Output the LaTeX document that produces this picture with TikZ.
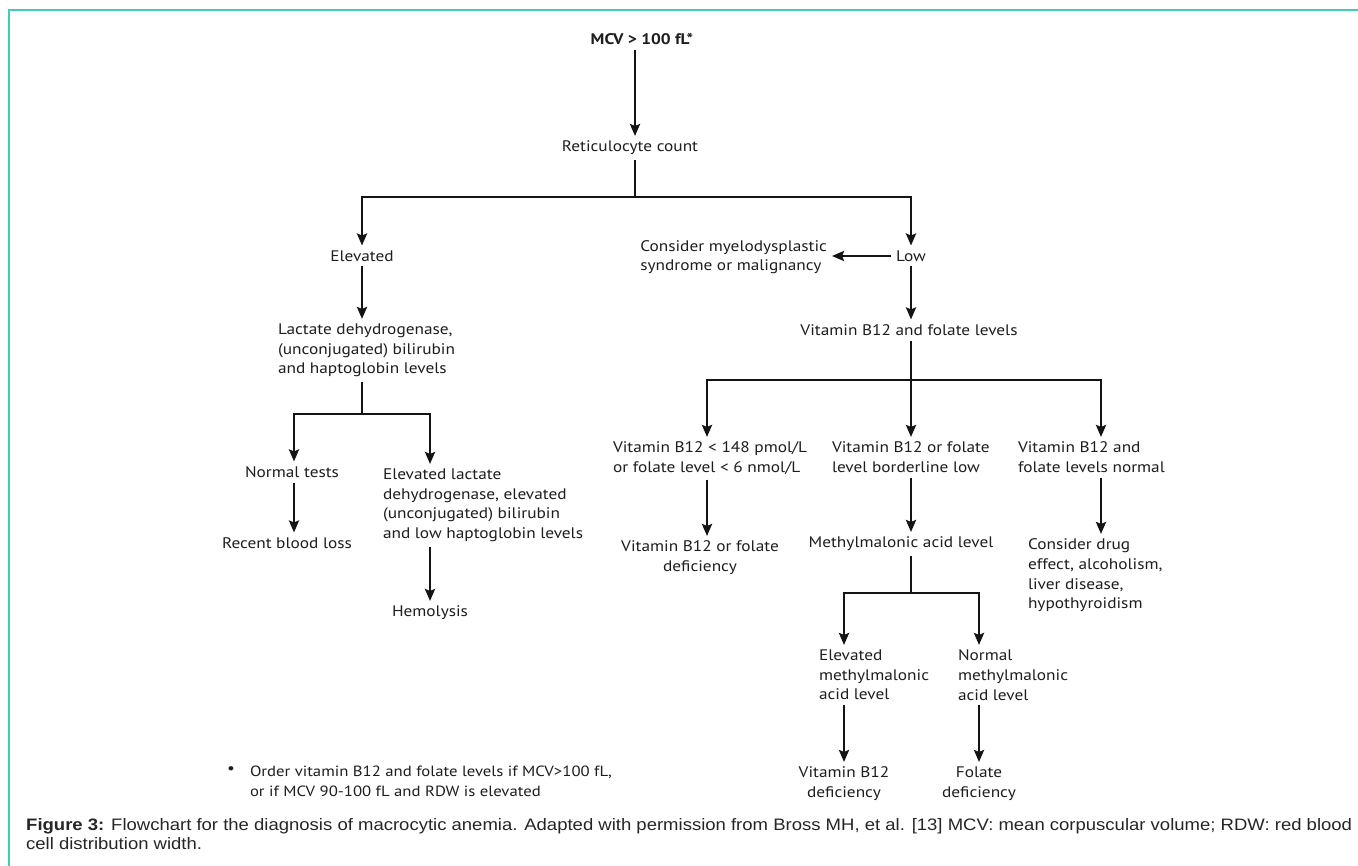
\documentclass[tikz,border=0pt]{standalone}
\usepackage{fontspec}
\setmainfont{PT Sans}[FakeStretch=1.13]
\newfontfamily\capfont{Liberation Sans}[FakeStretch=1.115]
\usetikzlibrary{arrows.meta}
\definecolor{frameteal}{RGB}{64,204,184}
\definecolor{txt}{RGB}{30,30,30}
\tikzset{
  lbl/.style={font=\fontsize{15.3}{19.6}\selectfont, text=txt, inner sep=0pt, outer sep=5pt},
  lblL/.style={lbl, align=left},
  lblC/.style={lbl, align=center},
  ln/.style={line width=2.6pt, draw=black!92},
  arr/.style={ln, -{Stealth[length=12pt,width=10pt,inset=2pt]}},
}
\begin{document}
\begin{tikzpicture}[x=1pt,y=-1pt]
\useasboundingbox (0,0) rectangle (1358,866);
\fill[white] (0,0) rectangle (1358,866);
% frame
\draw[frameteal, line width=2pt] (9,866) -- (9,10.5) -- (1358,10.5);

% nodes
\node[lbl, font=\fontsize{15.3}{19.6}\selectfont\bfseries] (mcv) at (642,39) {MCV > 100 fL*};
\node[lbl] (rc) at (630,148) {Reticulocyte count};
\node[lbl] (elev) at (362,256) {Elevated};
\node[lbl] (low) at (911,256) {Low};
\node[lblL, anchor=east] (mds) at (832,257) {Consider myelodysplastic\\syndrome or malignancy};
\node[lbl] (vbf) at (909,330) {Vitamin B12 and folate levels};
\node[lblL, anchor=north west] (lac) at (273,319) {Lactate dehydrogenase,\\(unconjugated) bilirubin\\and haptoglobin levels};
\node[lbl] (nt) at (292,472) {Normal tests};
\node[lblL, anchor=north west] (ell) at (378,464) {Elevated lactate\\dehydrogenase, elevated\\(unconjugated) bilirubin\\and low haptoglobin levels};
\node[lbl] (rbl) at (287,543) {Recent blood loss};
\node[lbl] (hem) at (430,613) {Hemolysis};
\node[lblL, anchor=north west] (v1) at (608,437) {Vitamin B12 < 148 pmol/L\\or folate level < 6 nmol/L};
\node[lblL, anchor=north west] (v2) at (827,437) {Vitamin B12 or folate\\level borderline low};
\node[lblL, anchor=north west] (v3) at (1013,437) {Vitamin B12 and\\folate levels normal};
\node[lblC, anchor=north] (d1) at (700,536) {Vitamin B12 or folate\\deficiency};
\node[lbl] (mma) at (901,544) {Methylmalonic acid level};
\node[lblL, anchor=north west] (drug) at (1023,534) {Consider drug\\effect, alcoholism,\\liver disease,\\hypothyroidism};
\node[lblL, anchor=north west] (em) at (814,645) {Elevated\\methylmalonic\\acid level};
\node[lblL, anchor=north west] (nm) at (953,645) {Normal\\methylmalonic\\acid level};
\node[lblC, anchor=north] (b12) at (844,762) {Vitamin B12\\deficiency};
\node[lblC, anchor=north] (fol) at (979,762) {Folate\\deficiency};
\node[lbl] (bul) at (231,770) {\textbullet};
\node[lblL, anchor=north west, font=\fontsize{14.8}{19.6}\selectfont] (foot) at (245,761) {Order vitamin B12 and folate levels if MCV>100 fL,\\or if MCV 90-100 fL and RDW is elevated};
\node[anchor=north west, inner sep=0pt, align=left, text=black!85,
      font=\capfont\fontsize{16.6}{18.8}\selectfont] (cap) at (26,818)
  {\textbf{Figure 3:} Flowchart for the diagnosis of macrocytic anemia. Adapted with permission from Bross MH, et al. [13] MCV: mean corpuscular volume; RDW: red blood\\cell distribution width.};

% junction coordinates
\coordinate (s0) at (635,197);
\coordinate (bL) at (362,197);
\coordinate (bR) at (911,197);
\coordinate (s3) at (362,414);
\coordinate (bNT) at (294,414);
\coordinate (bEL) at (430,414);
\coordinate (s1) at (911,380);
\coordinate (bV1) at (707,380);
\coordinate (bV3) at (1101,380);
\coordinate (s2) at (911,593);
\coordinate (bEM) at (844,593);
\coordinate (bNM) at (979,593);

% connectors
\draw[arr] (mcv.south -| s0) -- (rc.north -| s0);
\draw[ln] (rc.south -| s0) -- (s0);
\draw[arr] (s0) -- (bL) -- (bL |- elev.north);
\draw[arr] (s0) -- (bR) -- (bR |- low.north);
\draw[arr] (low.west) -- (low.west -| mds.east);
\draw[arr] (low.south) -- (low.south |- vbf.north);
\draw[ln] (vbf.south -| s1) -- (s1);
\draw[arr] (s1) -- (s1 |- v2.north);
\draw[arr] (s1) -- (bV1) -- (bV1 |- v1.north);
\draw[arr] (s1) -- (bV3) -- (bV3 |- v3.north);
\draw[arr] (v1.south -| bV1) -- (bV1 |- d1.north);
\draw[arr] (v2.south -| s1) -- (s1 |- mma.north);
\draw[arr] (v3.south -| bV3) -- (bV3 |- drug.north);
\draw[ln] (mma.south -| s2) -- (s2);
\draw[arr] (s2) -- (bEM) -- (bEM |- em.north);
\draw[arr] (s2) -- (bNM) -- (bNM |- nm.north);
\draw[arr] (em.south -| bEM) -- (bEM |- b12.north);
\draw[arr] (nm.south -| bNM) -- (bNM |- fol.north);
% left branch
\draw[arr] (elev.south) -- (elev.south |- lac.north);
\draw[ln] (lac.south -| s3) -- (s3);
\draw[arr] (s3) -- (bNT) -- (bNT |- nt.north);
\draw[arr] (s3) -- (bEL) -- (bEL |- ell.north);
\draw[arr] (nt.south -| bNT) -- (bNT |- rbl.north);
\draw[arr] (ell.south -| bEL) -- (bEL |- hem.north);
\end{tikzpicture}
\end{document}
